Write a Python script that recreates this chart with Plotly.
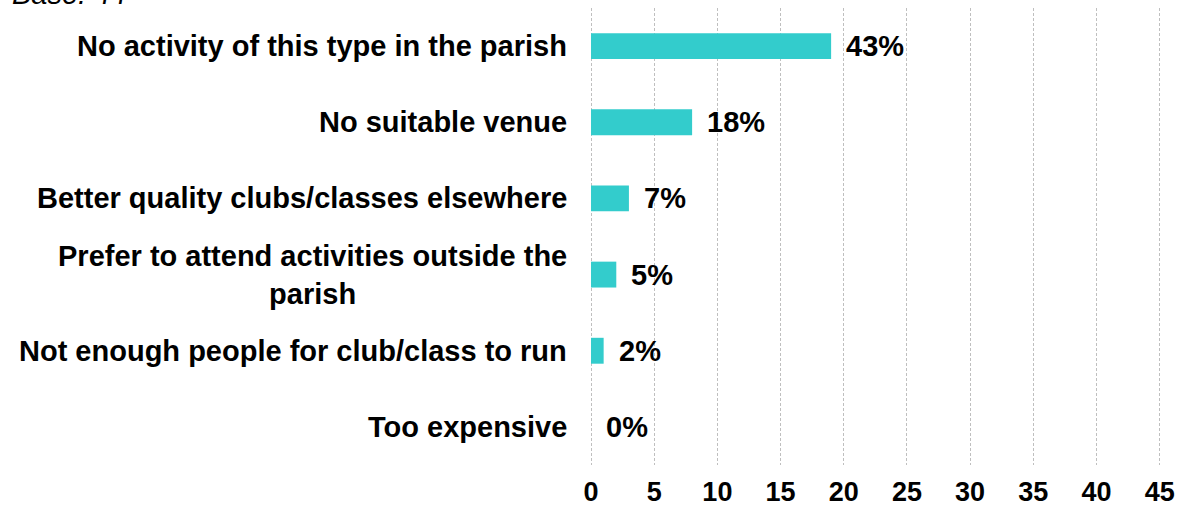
import plotly.graph_objects as go

# Survey responses: reasons for not taking part in clubs/classes in the parish
categories = [
    "No activity of this type in the parish",
    "No suitable venue",
    "Better quality clubs/classes elsewhere",
    "Prefer to attend activities outside the<br>parish",
    "Not enough people for club/class to run",
    "Too expensive",
]
counts = [19, 8, 3, 2, 1, 0]
base = 44
x_ticks = [0, 5, 10, 15, 20, 25, 30, 35, 40, 45]

pct_labels = [f"{round(c / base * 100)}%" for c in counts]

FONT = "Liberation Sans, Arial, sans-serif"
BAR_COLOR = "#33CCCC"

fig = go.Figure(
    go.Bar(
        x=counts,
        y=categories,
        orientation="h",
        marker=dict(color=BAR_COLOR, line=dict(width=0)),
        width=0.34,
        hoverinfo="skip",
    )
)

annotations = []
# category labels, centred lines, right-aligned against the axis
for cat in categories:
    annotations.append(dict(
        x=0, xref="x", y=cat, yref="y",
        text=f"<b>{cat}</b>", showarrow=False,
        xanchor="right", yanchor="middle", align="center",
        xshift=-22,
        font=dict(family=FONT, size=29, color="#000000"),
    ))
# value labels at the end of each bar
for cat, c, lab in zip(categories, counts, pct_labels):
    annotations.append(dict(
        x=c, xref="x", y=cat, yref="y",
        text=f"<b>{lab}</b>", showarrow=False,
        xanchor="left", yanchor="middle",
        xshift=13,
        font=dict(family=FONT, size=29, color="#000000"),
    ))
# base note in the top-left corner
annotations.append(dict(
    x=0, xref="paper", y=1, yref="paper",
    text=f"<i>Base: {base}</i>", showarrow=False,
    xanchor="left", yanchor="middle",
    xshift=-580, yshift=14,
    font=dict(family=FONT, size=29, color="#000000"),
))

fig.update_layout(
    width=1178, height=506,
    margin=dict(l=590, r=12, t=8, b=41),
    paper_bgcolor="white", plot_bgcolor="white",
    showlegend=False,
    annotations=annotations,
    xaxis=dict(
        range=[-0.08, 45.5],
        tickvals=x_ticks,
        ticktext=[f"<b>{v}</b>" for v in x_ticks],
        showgrid=True, gridcolor="#BFBFBF", gridwidth=1, griddash="3px,2px",
        zeroline=False, showline=False, ticks="",
        ticklabelstandoff=8,
        automargin=False,
        tickfont=dict(family=FONT, size=27, color="#000000"),
        fixedrange=True,
    ),
    yaxis=dict(
        categoryorder="array", categoryarray=categories,
        autorange="reversed",
        showticklabels=False, showgrid=False, zeroline=False,
        showline=False, ticks="",
        automargin=False,
        fixedrange=True,
    ),
)

fig.write_html("out.html")
